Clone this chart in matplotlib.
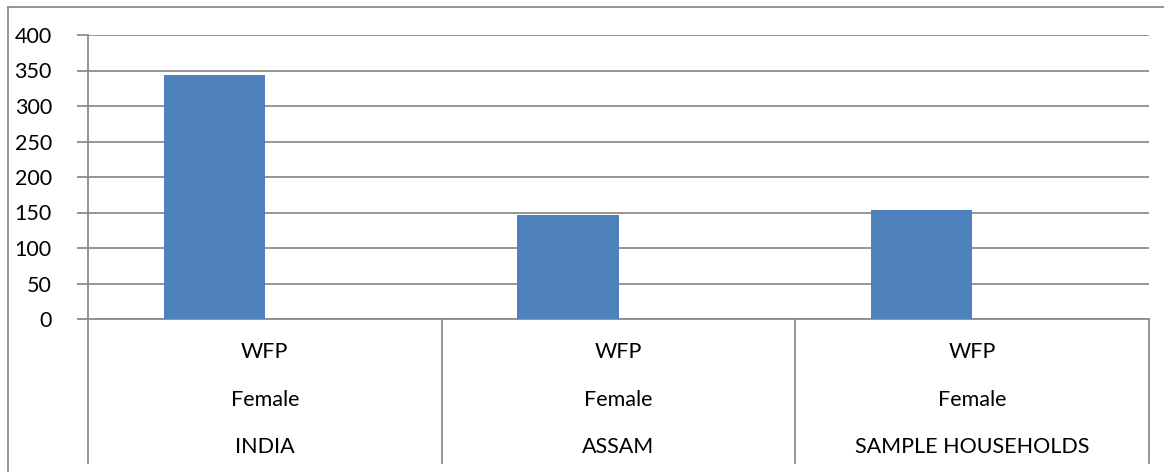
import matplotlib
matplotlib.use("Agg")
import matplotlib.pyplot as plt
import matplotlib.transforms as mtransforms
from matplotlib.lines import Line2D

plt.rcParams['font.family'] = ['Lato', 'DejaVu Sans']

# data
regions = ["INDIA", "ASSAM", "SAMPLE HOUSEHOLDS"]
sex = ["Female", "Female", "Female"]
measure = ["WFP", "WFP", "WFP"]
female_values = [344, 147, 154]
y_ticks = [0, 50, 100, 150, 200, 250, 300, 350, 400]

W, H = 1164, 472
grid_col = "#8c8c8c"
bar_col = "#4f81bd"

fig = plt.figure(figsize=(W / 100, H / 100), dpi=100)

# plot area in pixel terms
left, right, top, bottom = 88, 1149, 35, 319
ax = fig.add_axes([left / W, 1 - bottom / H, (right - left) / W, (bottom - top) / H])

# clustered layout: two series per category, gap width 150%, only the first has data
n_series = 2
bar_w = 1 / (n_series + 1.5)
xs = [i - bar_w / 2 for i in range(len(regions))]
ax.bar(xs, female_values, width=bar_w, color=bar_col, zorder=3)

ax.set_xlim(-0.5, len(regions) - 0.5)
ax.set_ylim(0, 400)
ax.set_yticks(y_ticks)
ax.set_yticklabels([str(t) for t in y_ticks], fontsize=15.5)
ax.tick_params(axis='y', length=8, width=1.3, color=grid_col, pad=18)
ax.tick_params(axis='x', length=0, labelbottom=False)
ax.yaxis.grid(True, color=grid_col, linewidth=1.3)
ax.set_axisbelow(True)
for s in ['top', 'right']:
    ax.spines[s].set_visible(False)
for s in ['left', 'bottom']:
    ax.spines[s].set_color(grid_col)
    ax.spines[s].set_linewidth(1.3)

# multi-level category axis below the plot
ph = bottom - top
trans = mtransforms.blended_transform_factory(ax.transData, ax.transAxes)
depth = -(463 - bottom) / ph
for xb in [i - 0.5 for i in range(len(regions) + 1)]:
    ax.add_line(Line2D([xb, xb], [0, depth], transform=trans, color=grid_col,
                       linewidth=1.3, clip_on=False))

rows = [(measure, 352), (sex, 400), (regions, 447)]
for labels, ypix in rows:
    for i, lab in enumerate(labels):
        ax.text(i, -(ypix - bottom) / ph, lab, transform=trans, ha='center',
                va='center', fontsize=15.5, color='black')

# outer chart border
fig.add_artist(Line2D([8 / W, 1], [1 - 6.5 / H, 1 - 6.5 / H], color=grid_col,
                      linewidth=1.3, transform=fig.transFigure))
fig.add_artist(Line2D([8 / W, 8 / W], [0, 1 - 6.5 / H], color=grid_col,
                      linewidth=1.3, transform=fig.transFigure))

fig.savefig("out.png", dpi=100)
